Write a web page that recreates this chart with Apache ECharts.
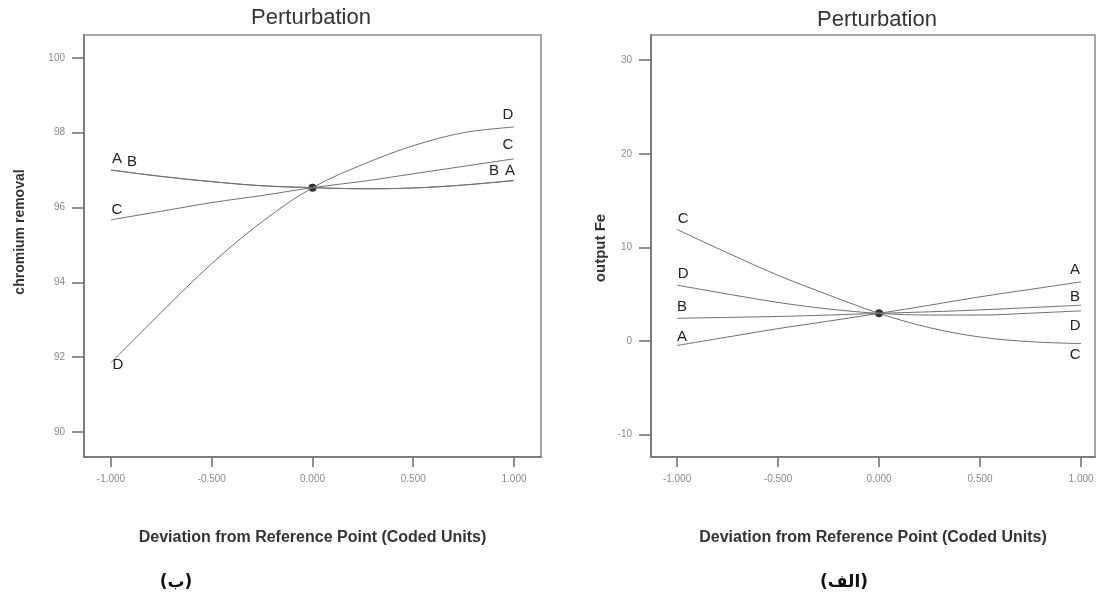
<!DOCTYPE html>
<html>
<head>
<meta charset="utf-8">
<title>Perturbation</title>
<script src="https://cdn.jsdelivr.net/npm/echarts@6/dist/echarts.min.js"></script>
<style>
    html, body { margin: 0; padding: 0; background: #fff; }
    #chart { width: 1103px; height: 598px; }
</style>
</head>
<body>
<div id="chart"></div>
<script>
// 横轴取样点（编码单位）
const xSteps = [-1, -0.75, -0.5, -0.25, 0, 0.25, 0.5, 0.75, 1];

// (ب) chromium removal
const crA = [97.0, 96.83, 96.69, 96.58, 96.53, 96.5, 96.52, 96.6, 96.72];
const crB = [97.0, 96.83, 96.69, 96.58, 96.53, 96.5, 96.52, 96.6, 96.72];
const crC = [95.67, 95.9, 96.13, 96.32, 96.53, 96.7, 96.9, 97.1, 97.3];
const crD = [91.85, 93.2, 94.5, 95.62, 96.53, 97.15, 97.65, 98.0, 98.15];
const crRef = [0, 96.53];

// (الف) output Fe
const feA = [-0.5, 0.4, 1.3, 2.1, 2.93, 3.8, 4.7, 5.5, 6.3];
const feB = [2.4, 2.5, 2.6, 2.75, 2.93, 3.1, 3.3, 3.55, 3.8];
const feC = [11.9, 9.4, 7.0, 4.9, 2.93, 1.4, 0.4, -0.1, -0.3];
const feD = [5.95, 5.0, 4.1, 3.4, 2.93, 2.75, 2.75, 2.95, 3.2];
const feRef = [0, 2.93];

// 刻度
const xTicks = [-1, -0.5, 0, 0.5, 1];
const crTicks = [90, 92, 94, 96, 98, 100];
const feTicks = [-10, 0, 10, 20, 30];

const FONT = '"Liberation Sans", Arial, sans-serif';
const LINE = '#707070';
const AXIS = '#6e6e6e';

// 曲线 + 两端字母标签
function curve(name, values, idx, startOff, endOff) {
    return {
        name: name,
        type: 'line',
        xAxisIndex: idx,
        yAxisIndex: idx,
        smooth: 0.35,
        symbol: 'circle',
        symbolSize: 0.1,
        showAllSymbol: true,
        silent: true,
        animation: false,
        itemStyle: { color: LINE },
        lineStyle: { color: LINE, width: 1 },
        data: values.map((v, i) => {
            const p = { value: [xSteps[i], v] };
            const off = i === 0 ? startOff : (i === values.length - 1 ? endOff : null);
            if (off) {
                p.label = {
                    show: true,
                    position: 'inside',
                    formatter: name,
                    offset: off,
                    color: '#222',
                    fontSize: 15,
                    fontFamily: FONT
                };
            }
            return p;
        })
    };
}

function refDot(point, idx) {
    return {
        type: 'scatter',
        xAxisIndex: idx,
        yAxisIndex: idx,
        symbolSize: 8,
        silent: true,
        animation: false,
        itemStyle: { color: '#000' },
        data: [point]
    };
}

function xAxisOf(idx, min, max) {
    return {
        type: 'value',
        gridIndex: idx,
        min: min,
        max: max,
        axisLine: { show: true, onZero: false, lineStyle: { color: AXIS, width: 1.5 } },
        axisTick: { show: true, customValues: xTicks, length: 10, lineStyle: { color: AXIS, width: 1.5 } },
        axisLabel: {
            customValues: xTicks,
            formatter: v => v.toFixed(3),
            color: '#8a8a8a',
            fontSize: 10,
            fontFamily: FONT,
            margin: 17
        },
        splitLine: { show: false },
        name: 'Deviation from Reference Point (Coded Units)',
        nameLocation: 'middle',
        nameGap: 73,
        nameTextStyle: { fontSize: 16, fontWeight: 'bold', color: '#333', fontFamily: FONT }
    };
}

function yAxisOf(idx, min, max, ticks) {
    return {
        type: 'value',
        gridIndex: idx,
        min: min,
        max: max,
        axisLine: { show: true, onZero: false, lineStyle: { color: AXIS, width: 1.5 } },
        axisTick: { show: true, customValues: ticks, length: 12, lineStyle: { color: AXIS, width: 1.5 } },
        axisLabel: {
            customValues: ticks,
            color: '#8a8a8a',
            fontSize: 10,
            fontFamily: FONT,
            margin: 19
        },
        splitLine: { show: false }
    };
}

const chart = echarts.init(document.getElementById('chart'));

const option = {
    backgroundColor: '#fff',
    title: [
        {
            text: 'Perturbation', left: 311, top: 7, padding: 0, textAlign: 'center',
            textStyle: { fontSize: 22, fontWeight: 'normal', color: '#333', fontFamily: FONT }
        },
        {
            text: 'Perturbation', left: 877, top: 9, padding: 0, textAlign: 'center',
            textStyle: { fontSize: 22, fontWeight: 'normal', color: '#333', fontFamily: FONT }
        }
    ],
    grid: [
        { left: 84, top: 35, width: 457, height: 422, show: true, borderColor: '#8a8a8a', borderWidth: 1.5 },
        { left: 651, top: 35, width: 444, height: 422, show: true, borderColor: '#8a8a8a', borderWidth: 1.5 }
    ],
    xAxis: [
        xAxisOf(0, -1.134, 1.134),
        xAxisOf(1, -1.129, 1.069)
    ],
    yAxis: [
        yAxisOf(0, 89.33, 100.61, crTicks),
        yAxisOf(1, -12.43, 32.7, feTicks)
    ],
    graphic: [
        {
            type: 'text', x: 20, y: 232, rotation: Math.PI / 2,
            style: { text: 'chromium removal', fill: '#333', font: 'bold 14px ' + FONT, textAlign: 'center', textVerticalAlign: 'middle' }
        },
        {
            type: 'text', x: 601, y: 248, rotation: Math.PI / 2,
            style: { text: 'output Fe', fill: '#333', font: 'bold 15px ' + FONT, textAlign: 'center', textVerticalAlign: 'middle' }
        },
        {
            type: 'text', x: 176, y: 583,
            style: { text: '(ب)', fill: '#111', font: 'bold 17px "DejaVu Sans", sans-serif', textAlign: 'center', textVerticalAlign: 'middle' }
        },
        {
            type: 'text', x: 844, y: 583,
            style: { text: '(الف)', fill: '#111', font: 'bold 17px "DejaVu Sans", sans-serif', textAlign: 'center', textVerticalAlign: 'middle' }
        }
    ],
    series: [
        curve('A', crA, 0, [6, -11], [-4, -10]),
        curve('B', crB, 0, [21, -8], [-20, -10]),
        curve('C', crC, 0, [6, -10], [-6, -14]),
        curve('D', crD, 0, [7, 2], [-6, -12]),
        refDot(crRef, 0),
        curve('A', feA, 1, [5, -9], [-6, -12]),
        curve('B', feB, 1, [5, -11], [-6, -8]),
        curve('C', feC, 1, [6, -11], [-6, 11]),
        curve('D', feD, 1, [6, -11], [-6, 15]),
        refDot(feRef, 1)
    ]
};

chart.setOption(option);

window.addEventListener('resize', function() {
    chart.resize();
});
</script>
</body>
</html>
